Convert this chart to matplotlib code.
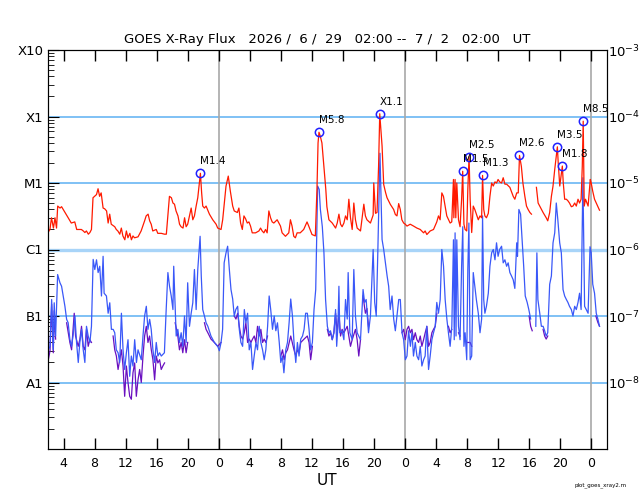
import numpy as np
import matplotlib
matplotlib.use("Agg")
import matplotlib.pyplot as plt
from matplotlib.ticker import FixedLocator, LogLocator, NullFormatter

# time: hours since 2026-06-29 00:00 UT ; flux in units of 1e-6 W/m^2
red_t = [2.0, 2.25, 2.45, 2.7, 2.9, 3.1, 3.25, 3.55, 3.75, 4.2, 4.6, 5.0, 5.45, 5.7, 5.9,
         6.3, 6.55, 6.75, 6.95, 7.2, 7.4, 7.6, 7.8, 8.0, 8.25, 8.45, 8.65, 8.85, 9.1, 9.3,
         9.55, 9.75, 9.95, 10.15, 10.6, 10.8, 11.0, 11.25, 11.45, 11.65, 11.9, 12.1, 12.3,
         12.55, 12.75, 12.95, 13.15, 13.6, 14.0, 14.45, 14.65, 14.9, 15.1, 15.3, 15.5, 15.95,
         16.15, 16.6, 17.0, 17.25, 17.45, 17.65, 17.9, 18.1, 18.3, 18.5, 18.75, 18.95, 19.15,
         19.4, 19.6, 19.8, 20.0, 20.45, 20.66, 20.87, 21.09, 21.3, 21.64, 21.8, 21.94, 22.16,
         22.37, 22.8, 23.23, 23.66, 23.87, 24.3, 24.51, 24.94, 25.23, 25.5, 25.8, 26.0, 26.4,
         26.6, 26.82, 27.04, 27.25, 27.46, 27.68, 27.89, 28.1, 28.32, 28.75, 29.18, 29.39,
         29.6, 29.82, 30.03, 30.24, 30.46, 30.68, 30.89, 31.1, 31.53, 31.96, 32.17, 32.6,
         33.03, 33.24, 33.45, 33.67, 33.88, 34.1, 34.5, 34.95, 35.38, 35.6, 36.02, 36.45,
         36.66, 36.8, 36.92, 37.1, 37.3, 37.56, 37.8,
         37.94, 38.2, 38.63, 39.06, 39.27, 39.49, 39.7, 39.9, 40.13, 40.34, 40.56, 40.77,
         40.98, 41.2, 41.41, 41.62, 41.84, 42.27, 42.7, 42.9, 43.1, 43.55, 43.9, 43.98, 44.2,
         44.4, 44.6, 44.75, 45.05, 45.26, 45.5, 45.69, 46.12, 46.54, 46.76, 46.97, 47.19,
         47.4, 47.6, 47.83, 48.04, 48.26, 48.68, 49.11, 49.54, 49.97, 50.4, 50.6, 50.82,
         51.25, 51.68, 52.1, 52.32, 52.53, 52.75, 52.96, 53.18, 53.39, 53.82, 54.03,
         54.25, 54.3, 54.46,
         54.55, 54.68, 54.9, 55.1, 55.3, 55.44, 55.6, 55.75, 55.96, 56.1, 56.26, 56.4, 56.6,
         56.8, 57.0, 57.2, 57.45, 57.67, 57.88, 58.0, 58.15, 58.3, 58.5, 58.74, 58.95, 59.17,
         59.38, 59.6, 59.8, 60.0, 60.2, 60.45, 60.66, 60.88, 61.1, 61.52, 61.95, 62.16, 62.4,
         62.6, 62.76, 63.0, 63.2, 63.45, 63.66, 63.87, 64.1, 64.3, 64.6, 64.94, 65.16, 65.37,
         65.8, 66.2, 66.4, 66.65, 66.87, 67.08, 67.3, 67.64, 67.75, 67.95, 68.28, 68.4, 68.58,
         68.8, 69.0, 69.2, 69.44, 69.65, 69.87, 70.08, 70.3, 70.5, 70.7, 70.85, 70.97, 71.1,
         71.27, 71.6, 71.88, 72.0, 72.2, 72.43, 72.65, 72.86, 73.07]
red_f = [1.8, 2.0, 3.0, 2.1, 3.0, 2.1, 4.5, 4.2, 4.4, 3.6, 3.0, 2.5, 2.6, 2.0, 2.0,
         2.0, 1.9, 1.8, 1.9, 1.7, 1.8, 2.0, 6.0, 6.3, 6.7, 8.2, 6.3, 7.1, 4.2, 4.1,
         3.8, 2.5, 3.4, 2.4, 2.2, 2.0, 1.9, 1.7, 2.1, 1.6, 1.4, 1.9, 1.5,
         1.75, 1.4, 1.6, 1.5, 1.55, 1.9, 2.7, 3.2, 3.4, 2.7, 2.4, 1.9, 2.0,
         1.75, 1.75, 1.7, 1.7, 3.2, 6.3, 6.0, 5.0, 4.8, 3.8, 3.2, 2.4, 2.2,
         2.1, 3.0, 2.2, 2.4, 4.2, 2.8, 3.2, 4.5, 6.0, 14.0, 7.1, 4.5, 4.2,
         4.5, 3.4, 2.8, 2.4, 2.1, 2.0, 2.8, 9.0, 12.7, 7.5, 4.5, 3.8, 3.6,
         4.2, 2.5, 2.0, 3.2, 2.9, 2.5, 2.6, 2.25, 1.78, 1.78, 1.9, 2.1,
         1.9, 1.78, 2.0, 1.78, 3.8, 3.0, 2.6, 2.5, 2.8, 2.25, 1.78, 1.58,
         1.78, 2.8, 2.25, 1.58, 1.5, 1.78, 1.78, 2.0, 2.6, 2.25, 1.68, 1.6,
         8.0, 40.0, 58.0, 50.0, 40.0, 17.7, 8.0,
         4.4, 2.8, 2.5, 2.1, 2.5, 3.4, 2.4, 2.2, 2.5, 3.2, 2.8, 5.7,
         3.0, 2.0, 5.0, 2.8, 2.1, 1.9, 4.8, 3.2, 2.8, 2.5, 3.3, 10.0, 3.5,
         3.6, 17.8, 110.0, 36.0, 9.5, 7.2, 6.0, 4.76, 4.0, 3.36, 3.2, 4.9,
         4.0, 2.8, 2.5, 2.4, 2.25, 2.4, 2.25, 2.1, 2.0, 1.78, 1.9, 1.68,
         1.9, 2.0, 2.6, 3.2, 2.8, 7.1, 6.3, 4.5, 3.2, 2.5, 2.6,
         11.3, 3.0, 11.3,
         3.0, 10.0, 2.8, 2.2, 5.7, 15.0, 2.4, 2.0, 1.9, 8.0, 25.0, 5.7, 1.8,
         4.5, 4.0, 3.4, 2.8, 3.2, 3.0, 13.0, 4.0, 3.2, 3.0, 3.5, 6.3, 10.0,
         9.0, 10.4, 10.0, 11.3, 10.4, 10.0, 12.0, 9.6, 9.6, 8.6, 6.3, 5.7, 7.1,
         7.1, 26.0, 17.8, 10.0, 6.3, 4.5, 4.0, 3.6, 3.4, np.nan, 8.6, 5.0, 4.5,
         3.6, 3.0, 2.7, 3.6, 6.3, 9.0, 16.0, 35.0, 20.0, 9.0, 18.0, 10.0, 5.7,
         5.7, 5.4, 5.0, 4.4, 4.5, 5.0, 4.5, 5.7, 5.0, 5.7, 17.8, 85.0, 4.5,
         5.7, 4.5, 11.3, 10.0, 7.5, 5.7, 5.0, 4.4, 3.9]

blue_t = [2.04, 2.26, 2.47, 2.68, 2.8, 2.98, 3.24, 3.54, 3.75, 4.18, 4.4, 4.6, 4.82, 5.04,
          5.25, 5.47, 5.68, 5.9, 6.1, 6.32, 6.54, 6.75, 6.96, 7.18, 7.4, 7.6, 7.82, 8.03,
          8.25, 8.46, 8.67, 8.89, 9.1, 9.23, 9.53, 9.75, 9.96, 10.17, 10.4, 10.6, 10.8, 11.03,
          11.24, 11.46, 11.67, 11.88, 12.1, 12.31, 12.53, 12.74, 12.95, 13.17, 13.4, 13.6,
          14.02, 14.24, 14.45, 14.67, 14.88, 15.1, 15.3, 15.52, 15.74, 15.95, 16.16, 16.38,
          16.6, 17.0, 17.23, 17.45, 17.66, 17.88, 18.1, 18.2, 18.4, 18.52, 18.73, 18.94, 19.16,
          19.37, 19.59, 19.8, 20.0, 20.23, 20.45, 20.66, 20.87, 21.09, 21.3, 21.6, 21.75,
          21.94, 22.16, 22.37, 22.6, 23.0, 23.44, 23.87, 24.08, 24.3, 24.5, 24.7, 24.94, 25.15,
          25.37, 25.58, 25.8, 26.0, 26.2, 26.44, 26.65, 26.86, 27.08, 27.3, 27.5, 27.72, 27.93,
          28.15, 28.36, 28.57, 28.8, 29.0, 29.22, 29.43, 29.65, 29.86, 30.07, 30.3, 30.5, 30.7,
          30.93, 31.15, 31.36, 31.57, 31.8, 32.0, 32.2, 32.4, 32.64, 32.86, 33.07, 33.28, 33.5,
          33.7, 33.93, 34.14, 34.35, 34.57, 34.8, 35.0, 35.2, 35.42, 35.64, 35.85, 36.07,
          36.28, 36.5, 36.75, 36.95, 37.1, 37.35, 37.56, 37.77, 38.0, 38.2, 38.4, 38.63, 38.84,
          39.06, 39.2, 39.36, 39.49, 39.6, 39.9, 40.13, 40.34, 40.56, 40.68, 40.9, 41.2, 41.41,
          41.62, 41.84, 42.27, 42.6, 42.8, 43.0, 43.3, 43.55, 43.9, 44.1, 44.3, 44.5, 44.78,
          45.05, 45.26, 45.48, 45.7, 45.9, 46.1, 46.33, 46.55, 46.76, 46.97, 47.2, 47.4, 47.62,
          47.83, 48.05, 48.26, 48.47, 48.7, 48.9, 49.1, 49.33, 49.54, 49.76, 49.97, 50.18,
          50.4, 50.6, 50.8, 51.04, 51.25, 51.47, 51.68, 51.9, 52.1, 52.32, 52.54, 52.75, 52.97,
          53.18, 53.4, 53.6, 53.82, 54.04, 54.25, 54.35, 54.46, 54.58, 54.68, 54.9, 55.1, 55.3,
          55.45, 55.6, 55.75, 55.96, 56.1, 56.24, 56.4, 56.6, 56.8, 57.0, 57.2, 57.45, 57.67,
          57.88, 58.0, 58.15, 58.3, 58.5, 58.74, 58.95, 59.17, 59.38, 59.6, 59.8, 60.0, 60.2,
          60.45, 60.66, 60.88, 61.1, 61.3, 61.52, 61.73, 61.95, 62.16, 62.4, 62.5, 62.68, 62.9,
          63.1, 63.3, 63.5, 63.75, 63.96, 64.2, 64.5, 64.86, 65.0, 65.13, 65.37, 65.58, 65.8,
          66.0, 66.2, 66.4, 66.65, 66.87, 67.08, 67.3, 67.5, 67.7, 67.94, 68.15, 68.37, 68.58,
          68.8, 69.0, 69.2, 69.44, 69.65, 69.87, 70.08, 70.3, 70.5, 70.7, 70.93, 71.15, 71.36,
          71.6, 71.85, 72.0, 72.2, 72.43, 72.65, 72.86, 73.07]
blue_f = [0.031, 0.035, 0.177, 0.031, 0.158, 0.05, 0.42, 0.316, 0.28, 0.14, 0.089, 0.079, 0.044, 0.035,
          0.053, 0.1, 0.04, 0.02, 0.04, 0.063, 0.031, 0.02, 0.07, 0.05, 0.04, 0.07, 0.71, 0.5,
          0.7, 0.45, 0.56, 0.2, 0.79, 0.22, 0.2, 0.11, 0.158, 0.063, 0.063, 0.056, 0.031, 0.028,
          0.02, 0.11, 0.031, 0.0157, 0.028, 0.044, 0.0124, 0.025, 0.0177, 0.044, 0.02, 0.031,
          0.022, 0.05, 0.1, 0.14, 0.063, 0.089, 0.063, 0.031, 0.02, 0.04, 0.025, 0.028,
          0.025, 0.028, 0.125, 0.45, 0.28, 0.2, 0.125, 0.56, 0.125, 0.05, 0.063, 0.04, 0.056,
          0.035, 0.1, 0.04, 0.316, 0.07, 0.11, 0.158, 0.5, 0.125, 0.5, 1.58, 0.4,
          0.125, 0.1, 0.079, 0.07, 0.05, 0.04, 0.035, 0.03, 0.04, 0.063, 0.63, 0.89, 1.12,
          0.5, 0.25, 0.18, 0.1, 0.125, 0.14, 0.063, 0.04, 0.035, 0.125, 0.079, 0.11, 0.031,
          0.04, 0.0157, 0.025, 0.04, 0.031, 0.07, 0.04, 0.031, 0.022, 0.031, 0.07, 0.2, 0.125,
          0.063, 0.1, 0.06, 0.079, 0.04, 0.02, 0.025, 0.014, 0.031, 0.04, 0.079, 0.18, 0.1,
          0.04, 0.02, 0.04, 0.025, 0.045, 0.05, 0.063, 0.11, 0.11, 0.063, 0.031, 0.04,
          0.125, 0.25, 9.0, 8.0, 4.0, 2.2, 0.89, 0.177, 0.07, 0.056, 0.06, 0.044, 0.056,
          0.125, 0.035, 0.07, 0.28, 0.056, 0.06, 0.044, 0.177, 0.09, 0.45, 0.056, 0.044, 0.5,
          0.1, 0.056, 0.044, 0.25, 0.16, 0.177, 0.056, 0.1, 1.0, 0.16, 0.1, 0.89, 28.0,
          1.41, 1.0, 0.63, 0.4, 0.28, 0.125, 0.2, 0.09, 0.06, 0.1, 0.177, 0.177, 0.056,
          0.044, 0.022, 0.025, 0.06, 0.035, 0.056, 0.025, 0.04, 0.025, 0.022, 0.035, 0.0177,
          0.022, 0.025, 0.07, 0.0157, 0.025, 0.044, 0.056, 0.07, 0.16, 0.11, 0.177, 1.0, 0.56,
          0.177, 0.09, 0.056, 0.035, 0.07, 1.4, 0.044, 1.78, 0.05, 1.4, 0.07, 0.044, 0.56,
          2.2, 0.035, 0.056, 0.022, 0.5, 2.5, 0.022, 0.025, 0.45, 0.28, 0.177, 0.11, 0.056,
          0.09, 3.2, 0.177, 0.11, 0.14, 0.22, 0.56, 0.89, 1.0, 0.7, 1.26, 0.79, 1.0,
          1.12, 0.63, 0.7, 0.56, 0.63, 0.45, 0.4, 0.35, 0.26, 1.26, 0.79, 4.0, 3.4,
          1.41, 0.56, 0.2, 0.16, 0.125, 0.09, np.nan, 0.07, 0.89, 0.177, 0.11, 0.07, 0.07,
          0.06, 0.05, 0.056, 0.3, 0.4, 1.26, 1.78, 5.0, 2.8, 1.26, 0.89, 0.25, 0.2,
          0.177, 0.16, 0.14, 0.125, 0.1, 0.14, 0.125, 0.16, 0.22, 0.125, 12.0, 0.14, 0.125,
          0.11, 1.1, 0.9, 0.3, 0.22, 0.11, 0.09, 0.07]

# second satellite short channel, only where it shows below the blue one (nan = break)
purple_t = [2.04, 2.26, 2.47, 2.68, 2.8, 2.98, np.nan,
            4.4, 4.61, 4.82, 5.04, 5.38, 5.55, 5.89, 6.1, 6.32, 6.54, 6.75, 6.96, 7.18, 7.39, 7.6, np.nan,
            10.39, 10.6, 10.81, 11.03, 11.24, 11.46, 11.67, 11.88, 12.1, 12.31, 12.53, 12.74, 12.95,
            13.17, 13.38, 13.6, 13.81, 14.02, 14.24, 14.45, 14.67, 14.88, 15.09, 15.31, 15.52, 15.74,
            15.95, 16.16, 16.38, 16.59, 16.8, 17.02, np.nan,
            18.39, 18.73, 18.94, 19.16, 19.37, 19.59, 19.8, 20.0, np.nan,
            22.16, 22.37, 22.6, 23.0, 23.44, 23.87, 24.3, np.nan,
            26.0, 26.22, 26.44, 26.65, 26.86, 27.08, 27.29, 27.5, 27.72, 27.93, 28.15, 28.36, 28.58,
            28.79, 29.0, 29.22, 29.43, 29.65, 29.86, 30.07, 30.29, np.nan,
            32.0, 32.22, 32.43, 32.64, 32.86, 33.28, 33.7, 33.93, 34.14, 34.35, 34.57, 35.0, 35.42,
            35.64, 35.85, 36.07, np.nan,
            38.0, 38.2, 38.42, 38.63, 38.84, 39.06, 39.27, 39.49, 39.7, 39.9, 40.13, 40.56, 40.98,
            41.2, 41.62, 41.84, 42.05, 42.27, np.nan,
            42.6, 42.9, 43.1, 43.3, np.nan,
            47.62, 47.83, 48.04, 48.26, 48.47, 48.69, 48.9, 49.11, 49.33, 49.54, 49.76, 49.97, 50.18,
            50.4, 50.61, 50.83, 51.04, 51.25, 51.47, 51.68, 51.9, 52.11, np.nan,
            53.6, 53.82, 54.04, np.nan, 54.9, 55.1, np.nan, 55.75, 55.96, 56.4, 56.6, np.nan,
            64.0, 64.2, 64.4, np.nan, 65.8, 66.0, 66.2, 66.4, np.nan,
            72.6, 72.86, 73.07]
purple_f = [0.022, 0.03, 0.15, 0.028, 0.12, 0.045, np.nan,
            0.079, 0.056, 0.04, 0.031, 0.11, 0.05, 0.035, 0.044, 0.07, 0.035, 0.031, 0.063, 0.035, 0.044, 0.04, np.nan,
            0.05, 0.031, 0.025, 0.0157, 0.022, 0.031, 0.0177, 0.0062, 0.0177, 0.01, 0.0062, 0.0056, 0.014,
            0.0197, 0.0062, 0.011, 0.0157, 0.01, 0.025, 0.05, 0.07, 0.04, 0.05, 0.031, 0.022, 0.011,
            0.025, 0.0197, 0.022, 0.0157, 0.0177, 0.0197, np.nan,
            0.079, 0.05, 0.031, 0.04, 0.028, 0.044, 0.028, 0.04, np.nan,
            0.079, 0.063, 0.056, 0.045, 0.04, 0.035, 0.04, np.nan,
            0.1, 0.09, 0.11, 0.07, 0.05, 0.045, 0.056, 0.079, 0.04, 0.045, 0.04, 0.045, 0.05,
            0.04, 0.07, 0.05, 0.063, 0.04, 0.045, 0.04, 0.05, np.nan,
            0.025, 0.031, 0.022, 0.028, 0.031, 0.05, 0.031, 0.025, 0.031, 0.028, 0.04, 0.045, 0.05,
            0.04, 0.022, 0.035, np.nan,
            0.063, 0.05, 0.056, 0.044, 0.056, 0.11, 0.056, 0.11, 0.05, 0.063, 0.056, 0.07, 0.035,
            0.044, 0.063, 0.044, 0.025, 0.044, np.nan,
            0.2, 0.11, 0.13, 0.07, np.nan,
            0.056, 0.063, 0.044, 0.063, 0.07, 0.056, 0.063, 0.044, 0.056, 0.044, 0.04, 0.05, 0.035,
            0.044, 0.056, 0.07, 0.035, 0.04, 0.056, 0.063, 0.07, 0.11, np.nan,
            0.07, 0.056, 0.063, np.nan, 0.056, 0.05, np.nan, 0.045, 0.04, 0.04, 0.035, np.nan,
            0.1, 0.07, 0.06, np.nan, 0.063, 0.05, 0.045, 0.05, np.nan,
            0.1, 0.08, 0.07]

flare_t = [21.64, 36.92, 44.75, 55.44, 56.26, 58.0, 62.76, 67.64, 68.28, 70.97]
flare_f = [14, 58, 110, 15, 25, 13, 26, 35, 18, 85]
flare_lbl = ["M1.4", "M5.8", "X1.1", "M1.5", "M2.5", "M1.3", "M2.6", "M3.5", "M1.8", "M8.5"]

class_val = [1e-8, 1e-7, 1e-6, 1e-5, 1e-4, 1e-3]
class_lbl = ["A1", "B1", "C1", "M1", "X1", "X10"]
right_lbl = ["$10^{-8}$", "$10^{-7}$", "$10^{-6}$", "$10^{-5}$", "$10^{-4}$", "$10^{-3}$"]
hour_ticks = list(range(4, 73, 4))

title = "GOES X-Ray Flux   2026 /  6 /  29   02:00 --  7 /  2   02:00   UT"

u = 1e-6
fig = plt.figure(figsize=(6.4, 5), dpi=100)
ax = fig.add_axes([0.075, 0.102, 0.873, 0.798])

for v in class_val[:-1]:
    if v == 1e-6:
        ax.axhline(v, color="#a8d4f8", lw=2.4, zorder=1)
    else:
        ax.axhline(v, color="#5cb0f2", lw=1.1, zorder=1)
for d in [24, 48, 72]:
    ax.axvline(d, color="#a8a8a8", lw=1.2, zorder=1)

ax.plot(purple_t, np.array(purple_f) * u, color="#6a10c0", lw=0.9, zorder=2)
ax.plot(blue_t, np.array(blue_f) * u, color="#3a58f8", lw=0.9, zorder=3)
ax.plot(red_t, np.array(red_f) * u, color="#ff1a00", lw=0.9, zorder=4)
ax.plot(flare_t, np.array(flare_f) * u, "o", mfc="none", mec="#2020ff", ms=6, mew=1.1, zorder=5)
for t, f, s in zip(flare_t, flare_f, flare_lbl):
    ax.annotate(s, (t, f * u), xytext=(0, 5), textcoords="offset points",
                fontsize=7.5, ha="left", va="bottom", zorder=6)

ax.set_yscale("log")
ax.set_ylim(1e-9, 1e-3)
ax.set_xlim(2, 74)
ax.xaxis.set_major_locator(FixedLocator(hour_ticks))
ax.set_xticklabels([str(h % 24) for h in hour_ticks])
ax.yaxis.set_major_locator(FixedLocator(class_val))
ax.set_yticklabels(class_lbl)
ax.yaxis.set_minor_locator(LogLocator(base=10, subs=range(2, 10)))
ax.yaxis.set_minor_formatter(NullFormatter())
ax.tick_params(axis="x", direction="in", top=True, length=8, width=1, labelsize=9, pad=6)
ax.tick_params(axis="y", which="major", direction="in", right=True, length=8, labelsize=9.5)
ax.tick_params(axis="y", which="minor", direction="in", right=True, length=4)
ax.set_xlabel("UT", fontsize=11, labelpad=2)
ax.set_title(title, fontsize=9.5, pad=5)

ax2 = ax.twinx()
ax2.set_yscale("log")
ax2.set_ylim(1e-9, 1e-3)
ax2.yaxis.set_major_locator(FixedLocator(class_val))
ax2.set_yticklabels(right_lbl)
ax2.yaxis.set_minor_locator(LogLocator(base=10, subs=range(2, 10)))
ax2.yaxis.set_minor_formatter(NullFormatter())
ax2.tick_params(axis="y", which="both", length=0, labelsize=9.5, pad=1)

fig.text(0.898, 0.028, "plot_goes_xray2.m", fontsize=4)
fig.savefig("out.png", dpi=100)
